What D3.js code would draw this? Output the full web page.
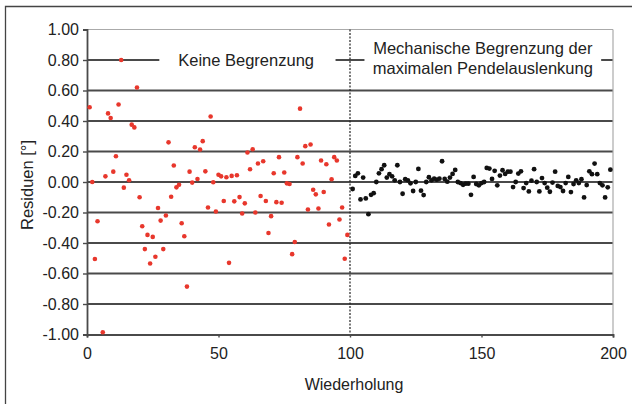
<!DOCTYPE html>
<html>
<head>
<meta charset="utf-8">
<script src="https://cdn.jsdelivr.net/npm/d3@7"></script>
<style>
  body { margin: 0; background: #fff; }
  text { font-family: "Liberation Sans", Arial, sans-serif; fill: #222; }
</style>
</head>
<body>
<div id="chart"></div>
<script>
// data
var redX = [1,2,3,4,6,7,8,9,10,11,12,13,14,15,16,17,18,19,20,21,22,23,24,25,26,27,28,29,30,31,32,33,34,35,36,37,38,39,40,41,42,43,44,45,46,47,48,49,50,51,52,53,54,55,56,57,58,59,60,61,62,63,64,65,66,67,68,69,70,71,72,73,74,75,76,77,78,79,80,81,82,83,84,85,86,87,88,89,90,91,92,93,94,95,96,97,98,99];
var redY = [0.49,0.00,-0.505,-0.257,-0.985,0.037,0.45,0.42,0.068,0.169,0.508,0.80,-0.037,0.048,0.011,0.376,0.358,0.62,-0.10,-0.29,-0.44,-0.347,-0.534,-0.36,-0.49,-0.17,-0.253,-0.44,-0.22,0.26,-0.097,0.108,-0.035,-0.018,-0.27,-0.356,-0.686,0.068,-0.004,0.228,0.02,0.213,0.268,0.07,-0.167,0.43,-0.002,-0.193,0.048,0.037,-0.125,0.031,-0.53,0.04,-0.127,0.044,-0.099,-0.207,-0.14,0.193,0.084,0.215,-0.2,0.121,-0.092,0.136,-0.125,-0.334,-0.224,0.057,-0.132,0.163,-0.136,0.062,-0.009,-0.013,-0.473,-0.393,0.163,0.481,0.121,0.235,-0.18,0.246,-0.051,-0.081,-0.174,0.141,-0.066,0.116,-0.279,0.018,0.163,0.141,-0.246,-0.167,-0.503,-0.347];

var blackX = [101,102,103,104,105,106,107,108,109,110,111,112,113,114,115,116,117,118,119,120,121,122,123,124,125,126,127,128,129,130,131,132,133,134,135,136,137,138,139,140,141,142,143,144,145,146,147,148,149,150,151,152,153,154,155,156,157,158,159,160,161,162,163,164,165,166,167,168,169,170,171,172,173,174,175,176,177,178,179,180,181,182,183,184,185,186,187,188,189,190,191,192,193,194,195,196,197,198,199];
var blackY = [-0.046,0.04,0.057,-0.114,0.029,-0.108,-0.211,-0.084,-0.073,0.0,0.057,0.084,0.11,0.029,0.051,0.037,0.011,0.11,0.0,-0.077,0.018,0.011,-0.009,-0.059,0.0,0.086,-0.057,-0.086,0.0,0.031,0.011,0.022,0.015,0.022,0.136,0.02,0.002,0.029,0.053,0.079,0.0,-0.007,-0.018,-0.011,-0.011,-0.084,0.033,-0.013,-0.022,-0.007,0.0,0.092,0.088,0.02,0.073,-0.022,0.042,0.077,0.053,0.068,0.068,-0.033,0.0,0.055,0.07,-0.04,-0.007,-0.062,0.009,0.084,0.0,-0.062,0.026,-0.007,-0.037,-0.064,-0.004,0.068,-0.026,-0.033,-0.059,-0.007,0.033,-0.066,-0.013,0.011,-0.007,0.018,-0.101,-0.02,0.07,0.051,0.121,0.051,-0.007,-0.022,-0.101,-0.035,0.081];

var yTicks = [1,0.8,0.6,0.4,0.2,0,-0.2,-0.4,-0.6,-0.8,-1];
var xTicks = [0,50,100,150,200];

var W = 632, H = 404;
var margin = {top: 29.5, right: 19, bottom: 69.5, left: 87},
    width = W - margin.left - margin.right,
    height = H - margin.top - margin.bottom;

var root = d3.select("#chart").append("svg")
  .attr("width", W).attr("height", H);

// outer frame (only left and top edge visible)
root.append("path")
  .attr("d", "M5.5,404 L5.5,6.5 L632,6.5")
  .attr("fill", "none").attr("stroke", "#444").attr("stroke-width", 1.3);

var svg = root.append("g")
  .attr("transform", "translate(" + margin.left + "," + margin.top + ")");

var x = d3.scaleLinear().domain([0, 200]).range([0, width]);
var y = d3.scaleLinear().domain([-1, 1]).range([height, 0]);

// gridlines
svg.selectAll(".grid").data(yTicks.filter(function(d){ return d > -1; }))
  .enter().append("line")
  .attr("x1", 0).attr("x2", width)
  .attr("y1", function(d){ return y(d); })
  .attr("y2", function(d){ return y(d); })
  .attr("stroke", function(d){ return d == 1 ? "#aaa" : "#4a4a4a"; })
  .attr("stroke-width", function(d){ return d == 1 ? 1.2 : 1.8; });

// right border of plot area
svg.append("line")
  .attr("x1", width).attr("x2", width).attr("y1", 0).attr("y2", height)
  .attr("stroke", "#aaa").attr("stroke-width", 1.2);

// white boxes behind the annotations
svg.append("rect")
  .attr("x", x(27.5)).attr("y", y(0.8) - 14).attr("width", x(94.5) - x(27.5)).attr("height", 26)
  .attr("fill", "#fff");
svg.append("rect")
  .attr("x", x(105.5)).attr("y", 4).attr("width", x(195.5) - x(105.5)).attr("height", 48)
  .attr("fill", "#fff");

// dashed separator at 100
svg.append("line")
  .attr("x1", x(100)).attr("x2", x(100)).attr("y1", 0).attr("y2", height)
  .attr("stroke", "#222").attr("stroke-width", 1.2).attr("stroke-dasharray", "2,1.5");

var fmt = function(d){ return d3.format(".2f")(d).replace("−", "-"); };

// Y axis
var yAxis = svg.append("g")
  .call(d3.axisLeft(y).tickValues(yTicks).tickSize(4).tickFormat(fmt));
yAxis.select(".domain").attr("stroke", "#4a4a4a").attr("stroke-width", 1.8);
yAxis.selectAll(".tick line").attr("stroke", "#4a4a4a").attr("stroke-width", 1.4);
yAxis.selectAll("text").attr("x", -8).style("font-size", "16px")
  .style("font-family", "Liberation Sans, Arial, sans-serif").attr("fill", "#222");

// X axis
var xAxis = svg.append("g")
  .attr("transform", "translate(0," + height + ")")
  .call(d3.axisBottom(x).tickValues(xTicks).tickSize(3));
xAxis.select(".domain").attr("stroke", "#4a4a4a").attr("stroke-width", 1.8);
xAxis.selectAll(".tick line").attr("stroke", "#4a4a4a").attr("stroke-width", 1.4);
xAxis.selectAll("text").attr("y", 13).style("font-size", "16px")
  .style("font-family", "Liberation Sans, Arial, sans-serif").attr("fill", "#222");

// axis titles
svg.append("text")
  .attr("x", width / 2 + 4).attr("y", height + 55)
  .attr("text-anchor", "middle").style("font-size", "16px")
  .text("Wiederholung");

svg.append("text")
  .attr("transform", "rotate(-90)")
  .attr("x", -(height / 2) - 3).attr("y", -54)
  .attr("text-anchor", "middle").style("font-size", "16.5px")
  .text("Residuen [°]");

// annotations
svg.append("text")
  .attr("x", x(60.5)).attr("y", y(0.8) + 6)
  .attr("text-anchor", "middle").style("font-size", "16.5px")
  .text("Keine Begrenzung");
svg.append("text")
  .attr("x", x(150.5)).attr("y", 24.5)
  .attr("text-anchor", "middle").style("font-size", "16.5px")
  .text("Mechanische Begrenzung der");
svg.append("text")
  .attr("x", x(150.5)).attr("y", 44.5)
  .attr("text-anchor", "middle").style("font-size", "16.5px")
  .text("maximalen Pendelauslenkung");

// points
svg.append("g").selectAll("circle")
  .data(redX.map(function(d, i){ return [d, redY[i]]; }))
  .enter().append("circle")
  .attr("cx", function(d){ return x(d[0]); })
  .attr("cy", function(d){ return y(d[1]); })
  .attr("r", 2.3)
  .attr("fill", "#e8372c");

svg.append("g").selectAll("circle")
  .data(blackX.map(function(d, i){ return [d, blackY[i]]; }))
  .enter().append("circle")
  .attr("cx", function(d){ return x(d[0]); })
  .attr("cy", function(d){ return y(d[1]); })
  .attr("r", 2.4)
  .attr("fill", "#111");
</script>
</body>
</html>
